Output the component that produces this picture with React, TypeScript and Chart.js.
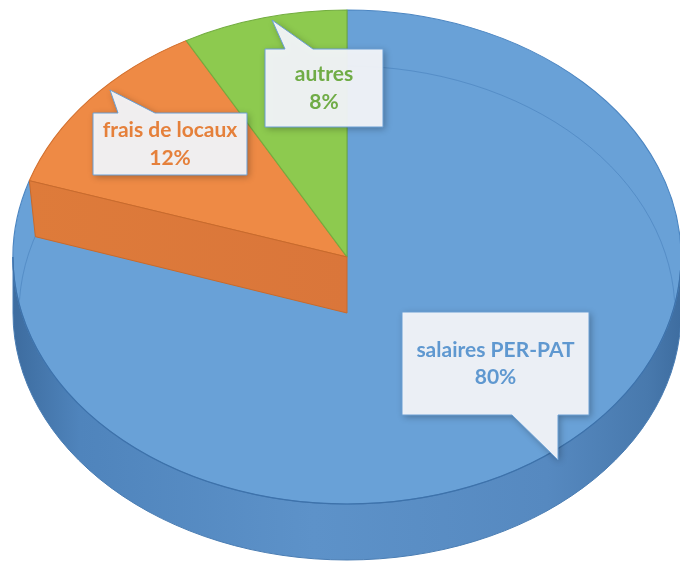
import React, { useEffect, useRef } from "react";
import { Chart, registerables } from "chart.js";
Chart.register(...registerables);

// ---- data ----
const categories = ["salaires PER-PAT", "frais de locaux", "autres"];
const values = [80, 12, 8];

// ---- styles ----
const topColors = ["#69A1D7", "#EE8A45", "#8DCA4F"];
const edgeColors = ["#4C86C2", "#D26F2D", "#73AD40"];
const textColors = ["#5F98D0", "#E5803B", "#70AC46"];

const W = 680;
const H = 567;
const EX = 347;
const EY = 257;
const RX = 334;
const RY = 247;
const DEPTH = 56;

// callout layout (box: x0,y0,x1,y1 ; pointer base x-range on edge ; pointer tip)
const calloutBoxes = [
  { box: [402, 312, 589, 415], base: [512, 558], tip: [558, 460], side: "bottom" },
  { box: [93, 113, 247, 175], base: [118, 155], tip: [110, 90], side: "top" },
  { box: [265, 49, 383, 127], base: [285, 313], tip: [272, 20], side: "top" },
];

function calloutPath(ctx: CanvasRenderingContext2D, c: any) {
  const [x0, y0, x1, y1] = c.box;
  ctx.beginPath();
  if (c.side === "top") {
    ctx.moveTo(x0, y0);
    ctx.lineTo(c.base[0], y0);
    ctx.lineTo(c.tip[0], c.tip[1]);
    ctx.lineTo(c.base[1], y0);
    ctx.lineTo(x1, y0);
    ctx.lineTo(x1, y1);
    ctx.lineTo(x0, y1);
  } else {
    ctx.moveTo(x0, y0);
    ctx.lineTo(x1, y0);
    ctx.lineTo(x1, y1);
    ctx.lineTo(c.base[1], y1);
    ctx.lineTo(c.tip[0], c.tip[1]);
    ctx.lineTo(c.base[0], y1);
    ctx.lineTo(x0, y1);
  }
  ctx.closePath();
}

const pie3d = {
  id: "pie3d",
  beforeDatasetsDraw(chart: any) {
    const ctx: CanvasRenderingContext2D = chart.ctx;
    // side band
    ctx.save();
    const g = ctx.createLinearGradient(EX - RX, 0, EX + RX, 0);
    g.addColorStop(0, "#3D6C9F");
    g.addColorStop(0.1, "#4F84BC");
    g.addColorStop(0.45, "#5D92C9");
    g.addColorStop(0.8, "#5689C0");
    g.addColorStop(0.95, "#4879AD");
    g.addColorStop(1, "#3E6DA0");
    ctx.beginPath();
    ctx.ellipse(EX, EY, RX, RY, 0, 0, Math.PI, false);
    ctx.lineTo(EX - RX, EY + DEPTH);
    ctx.ellipse(EX, EY + DEPTH, RX, RY, 0, Math.PI, 0, true);
    ctx.closePath();
    ctx.fillStyle = g;
    ctx.fill();
    ctx.strokeStyle = "#4A7DB3";
    ctx.lineWidth = 1;
    ctx.stroke();
    ctx.restore();

    const arc = chart.getDatasetMeta(0).data[0];
    const R = arc.outerRadius;
    ctx.save();
    ctx.translate(EX, EY);
    ctx.scale(RX / R, RY / R);
    ctx.translate(-arc.x, -arc.y);
  },
  afterDatasetsDraw(chart: any) {
    const ctx: CanvasRenderingContext2D = chart.ctx;
    ctx.restore();
    const arcs = chart.getDatasetMeta(0).data;

    // top rim line (front)
    ctx.save();
    ctx.beginPath();
    ctx.ellipse(EX, EY, RX, RY, 0, 0, Math.PI, false);
    ctx.strokeStyle = "#3E72AA";
    ctx.lineWidth = 1.2;
    ctx.stroke();
    ctx.restore();

    // faint hidden bottom rim seen through the blue slice
    const b = arcs[0];
    ctx.save();
    ctx.beginPath();
    ctx.moveTo(EX, EY);
    ctx.ellipse(EX, EY, RX - 1, RY - 1, 0, b.startAngle, b.endAngle, false);
    ctx.closePath();
    ctx.clip();
    ctx.beginPath();
    ctx.ellipse(EX, EY + DEPTH, RX - 6, RY, 0, 0, Math.PI * 2);
    ctx.strokeStyle = "rgba(70,125,185,0.55)";
    ctx.lineWidth = 1;
    ctx.stroke();
    ctx.restore();

    // orange slice wall
    const o = arcs[1];
    const a = o.startAngle;
    const rimX = EX + RX * Math.cos(a);
    const rimY = EY + RY * Math.sin(a);
    ctx.save();
    const wg = ctx.createLinearGradient(rimX, 0, EX, 0);
    wg.addColorStop(0, "#DE7B3A");
    wg.addColorStop(1, "#DA763A");
    ctx.beginPath();
    ctx.moveTo(rimX, rimY);
    ctx.lineTo(EX, EY);
    ctx.lineTo(EX, EY + DEPTH);
    ctx.lineTo(rimX + 6, rimY + DEPTH);
    ctx.closePath();
    ctx.fillStyle = wg;
    ctx.fill();
    ctx.strokeStyle = "#C86A2C";
    ctx.lineWidth = 1;
    ctx.stroke();
    ctx.restore();

    // callouts
    const total = values.reduce((s, v) => s + v, 0);
    calloutBoxes.forEach((c, i) => {
      ctx.save();
      calloutPath(ctx, c);
      ctx.shadowColor = "rgba(0,0,0,0.3)";
      ctx.shadowBlur = 7;
      ctx.shadowOffsetX = 2;
      ctx.shadowOffsetY = 2;
      ctx.fillStyle = "rgba(243,246,250,0.95)";
      ctx.fill();
      ctx.shadowColor = "transparent";
      ctx.strokeStyle = "#6A9FD4";
      ctx.lineWidth = 1;
      ctx.stroke();
      const cx = (c.box[0] + c.box[2]) / 2;
      const cy = (c.box[1] + c.box[3]) / 2;
      ctx.fillStyle = textColors[i];
      ctx.font = "bold 21px Lato, 'Open Sans', sans-serif";
      ctx.textAlign = "center";
      ctx.textBaseline = "middle";
      ctx.fillText(categories[i], cx, cy - 13.5);
      ctx.fillText(Math.round((values[i] / total) * 100) + "%", cx, cy + 14);
      ctx.restore();
    });
  },
};

export default function App() {
  const ref = useRef<HTMLCanvasElement>(null);
  useEffect(() => {
    document.body.style.margin = "0";
    const chart = new Chart(ref.current as HTMLCanvasElement, {
      type: "pie",
      data: {
        labels: categories,
        datasets: [
          {
            data: values,
            backgroundColor: topColors,
            borderColor: edgeColors,
            borderWidth: 1,
          },
        ],
      },
      options: {
        responsive: false,
        animation: false,
        events: [],
        devicePixelRatio: 1,
        layout: { padding: 0 },
        plugins: {
          legend: { display: false },
          tooltip: { enabled: false },
        },
      },
      plugins: [pie3d],
    });
    return () => chart.destroy();
  }, []);
  return (
    <div style={{ position: "fixed", left: 0, top: 0, width: W, height: H, background: "#fff" }}>
      <canvas ref={ref} width={W} height={H} />
    </div>
  );
}
